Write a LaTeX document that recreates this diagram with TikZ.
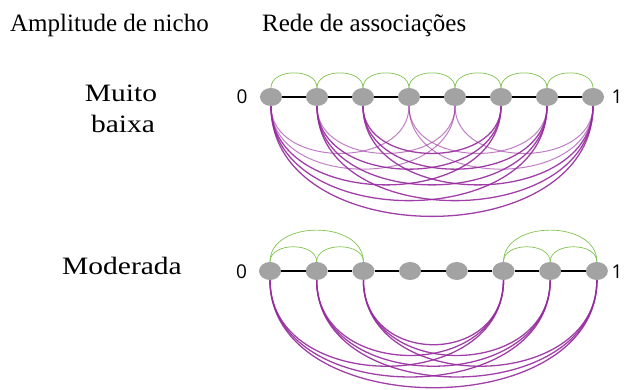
\documentclass[tikz,border=0pt]{standalone}
\usepackage{fontspec}
\usepackage{graphicx}
\setmainfont{Liberation Serif}
\newfontfamily\digitfont{Open Sans}
\usetikzlibrary{shapes.geometric}
\definecolor{sitegray}{RGB}{163,163,163}
\definecolor{assocpurple}{RGB}{150,42,158}
\definecolor{nichegreen}{RGB}{128,196,78}
\begin{document}
\begin{tikzpicture}[x=1pt,y=-1pt,
  site/.style={ellipse, fill=sitegray, draw=none, minimum width=22pt, minimum height=18pt, inner sep=0pt},
  axisline/.style={line width=1.4pt, black},
  strong/.style={draw=assocpurple, line width=1.3pt, opacity=0.9},
  weak/.style={draw=assocpurple, line width=1pt, opacity=0.6},
  niche/.style={draw=nichegreen, line width=0.7pt},
  title/.style={font=\fontsize{25}{30}\selectfont, anchor=base west, inner sep=0pt},
  rowlabel/.style={font=\fontsize{25}{30}\selectfont, anchor=base, inner sep=0pt},
  endlabel/.style={font=\digitfont\fontsize{19}{21}\selectfont, inner sep=0pt}]
\useasboundingbox (0,0) rectangle (625,390);

% column headings
\node[title] (hniche) at (10,32) {Amplitude de nicho};
\node[title] (hnet) at (262,32) {Rede de associações};

% row labels
\node[rowlabel] (lvlow1) at (121,101.5) {\scalebox{1.18}[1]{Muito}};
\node[rowlabel] (lvlow2) at (123,133) {\scalebox{1.18}[1]{baixa}};
\node[rowlabel] (lmod) at (122,275) {\scalebox{1.18}[1]{Moderada}};

% ---------- upper network ----------
\foreach \i in {1,...,8}
  \node[site] (t\i) at ({271+46*(\i-1)},97) {};
\node[endlabel] (t0lab) at (242,97) {0};
\node[endlabel] (t1lab) at (617,97) {1};
\draw[axisline] (t1) -- (t2) -- (t3) -- (t4) -- (t5) -- (t6) -- (t7) -- (t8);
\foreach \i [evaluate=\i as \j using int(\i+1)] in {1,...,7}
  \draw[niche] (t\i) to[out=90,in=90,looseness=1.11] (t\j);
\foreach \i in {1,...,5}
  \foreach \j in {4,...,8}{
    \pgfmathtruncatemacro\gap{\j-\i}
    \ifnum\gap>2
      \pgfmathtruncatemacro\mid{(\i==4)||(\i==5)||(\j==4)||(\j==5)}
      \ifnum\mid=1
        \draw[weak] (t\i) to[out=-90,in=-90,looseness=1.17] (t\j);
      \else
        \draw[strong] (t\i) to[out=-90,in=-90,looseness=1.17] (t\j);
      \fi
    \fi
  }

% ---------- lower network ----------
\foreach \i in {1,...,8}
  \node[site] (b\i) at ({270+46.7*(\i-1)},271) {};
\node[endlabel] (b0lab) at (241.5,272) {0};
\node[endlabel] (b1lab) at (617,272) {1};
\draw[axisline] (b1) -- (b2) -- (b3) -- (b4) -- (b5) -- (b6) -- (b7) -- (b8);
\draw[niche] (b1) to[out=90,in=90,looseness=1.1] (b2);
\draw[niche] (b2) to[out=90,in=90,looseness=1.1] (b3);
\draw[niche] (b1) to[out=90,in=90,looseness=1.16] (b3);
\draw[niche] (b6) to[out=90,in=90,looseness=1.1] (b7);
\draw[niche] (b7) to[out=90,in=90,looseness=1.1] (b8);
\draw[niche] (b6) to[out=90,in=90,looseness=1.16] (b8);
\foreach \i in {1,2,3}
  \foreach \j in {6,7,8}{
    \pgfmathsetmacro\lo{(4/3)*(32.4+10.79*(\j-\i))/(18.28*(\j-\i))}
    \draw[strong] (b\i) to[out=-90,in=-90,looseness=\lo] (b\j);
  }
\end{tikzpicture}
\end{document}
